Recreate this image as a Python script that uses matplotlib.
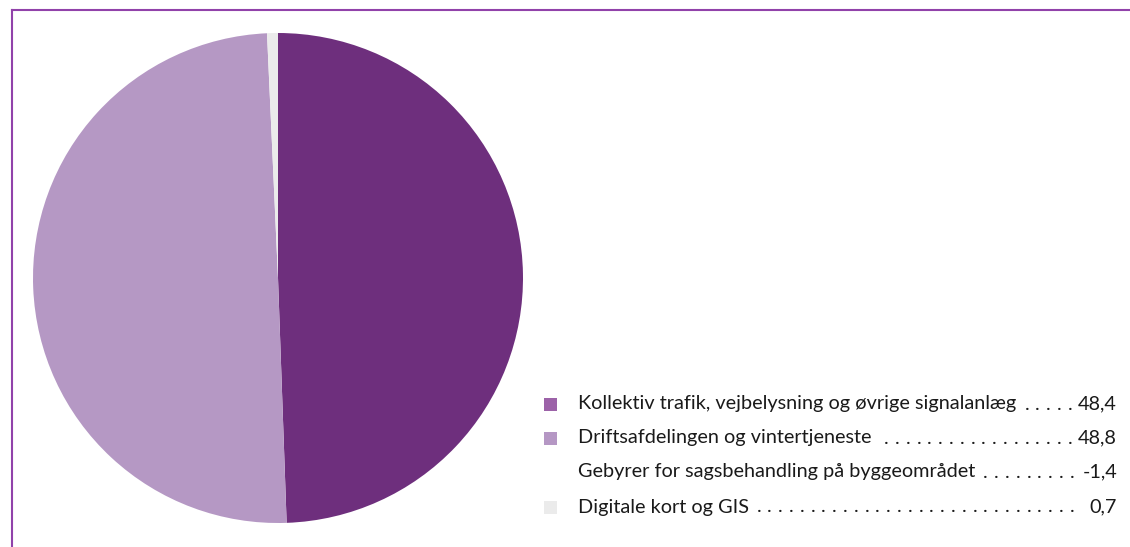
import matplotlib
matplotlib.use("Agg")
import matplotlib.pyplot as plt
from matplotlib.lines import Line2D
from matplotlib.patches import Rectangle

labels = ["Kollektiv trafik, vejbelysning og øvrige signalanlæg",
          "Driftsafdelingen og vintertjeneste",
          "Gebyrer for sagsbehandling på byggeområdet",
          "Digitale kort og GIS"]
values = [48.4, 48.8, -1.4, 0.7]
value_text = ["48,4", "48,8", "-1,4", "0,7"]
pie_colors = ["#6e2f7d", "#b598c4", "#ffffff", "#ebebeb"]
legend_colors = ["#9c62a8", "#b597c4", None, "#ebebeb"]

W, H = 1130, 547
fig = plt.figure(figsize=(W / 100, H / 100), dpi=100)
plt.rcParams['font.family'] = ['Lato', 'DejaVu Sans']

def fx(px):
    return px / W

def fy(py):
    return 1 - py / H

# frame lines (top and left)
border = "#9142aa"
fig.add_artist(Line2D([fx(12), 1], [fy(10), fy(10)], color=border, lw=1.5))
fig.add_artist(Line2D([fx(12), fx(12)], [fy(10), 0], color=border, lw=1.5))

# pie: only positive values are drawn
pos = [(v, c) for v, c in zip(values, pie_colors) if v > 0]
cx, cy, r = 278, 278, 245
ax = fig.add_axes([fx(cx - r), fy(cy + r), 2 * r / W, 2 * r / H])
ax.pie([p[0] for p in pos], colors=[p[1] for p in pos], startangle=90,
       counterclock=False, radius=1.0,
       wedgeprops=dict(linewidth=0))
ax.set_xlim(-1, 1)
ax.set_ylim(-1, 1)
ax.set_aspect("auto")
ax.axis("off")

# legend with dot leaders
rows_y = [404, 438, 472, 507]
text_x = 578
value_x = 1117
fs = 14.3
renderer = fig.canvas.get_renderer()
step = 10.8
for lab, vt, col, y in zip(labels, value_text, legend_colors, rows_y):
    if col is not None:
        fig.add_artist(Rectangle((fx(544), fy(y + 7)), 13 / W, 13 / H,
                                 transform=fig.transFigure, color=col, lw=0))
    t = fig.text(fx(text_x), fy(y), lab, fontsize=fs, va="center", ha="left",
                 color="#1a1a1a")
    v = fig.text(fx(value_x), fy(y), vt, fontsize=fs, va="center", ha="right",
                 color="#1a1a1a")
    lab_end = t.get_window_extent(renderer).x1
    v_start = v.get_window_extent(renderer).x0
    xd = min(1072, v_start - 8)
    while xd > lab_end + 6:
        fig.text(fx(xd), fy(y), ".", fontsize=fs, va="center", ha="center",
                 color="#1a1a1a")
        xd -= step

fig.savefig("out.png", dpi=100)
